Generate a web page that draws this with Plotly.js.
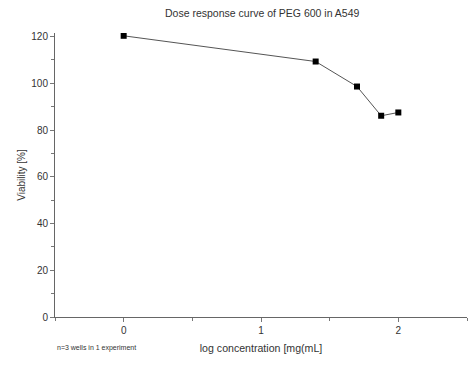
<!DOCTYPE html>
<html>
<head>
<meta charset="utf-8">
<script src="https://cdn.plot.ly/plotly-3.0.1.min.js"></script>
<style>html,body{margin:0;padding:0;background:#fff;}#chart{width:475px;height:369px;}</style>
</head>
<body>
<div id="chart"></div>
<script>
const logConc = [0, 1.398, 1.699, 1.875, 2];
const viability = [120.3, 109.3, 98.6, 86.1, 87.5];
const xTickVals = [0, 1, 2];
const yTickVals = [0, 20, 40, 60, 80, 100, 120];

const trace = {
  x: logConc, y: viability, type: 'scatter', mode: 'lines+markers',
  line: {color: '#555555', width: 1},
  marker: {symbol: 'square', size: 6, color: '#000000'},
  showlegend: false, hoverinfo: 'none'
};
const fontFam = 'Liberation Sans, Arial, sans-serif';
const layout = {
  width: 475, height: 369,
  margin: {l: 55, r: 8, t: 33, b: 52},
  paper_bgcolor: '#ffffff', plot_bgcolor: '#ffffff',
  font: {family: fontFam, size: 10, color: '#333333'},
  title: {text: 'Dose response curve of PEG 600 in A549', font: {family: fontFam, size: 10.5, color: '#333333'}, x: 0.552, xanchor: 'center', y: 0.965, yanchor: 'middle'},
  xaxis: {
    range: [-0.5, 2.5], tickvals: xTickVals, ticks: 'outside', ticklen: 4, tickcolor: '#777777',
    showgrid: false, zeroline: false, showline: true, linecolor: '#666666', linewidth: 1,
    tickfont: {family: fontFam, size: 10, color: '#333333'},
    minor: {dtick: 0.5, tick0: 0.5, ticks: 'outside', ticklen: 3, tickcolor: '#777777', showgrid: false},
    title: {text: 'log concentration [mg(mL]', font: {family: fontFam, size: 10.6, color: '#333333'}, standoff: 9}
  },
  yaxis: {
    range: [0, 121.5], tickvals: yTickVals, ticks: 'outside', ticklen: 4, tickcolor: '#777777',
    showgrid: false, zeroline: false, showline: true, linecolor: '#666666', linewidth: 1,
    tickfont: {family: fontFam, size: 10, color: '#333333'},
    minor: {dtick: 10, tick0: 10, ticks: 'outside', ticklen: 3, tickcolor: '#777777', showgrid: false},
    title: {text: 'Viability [%]', font: {family: fontFam, size: 10, color: '#333333'}, standoff: 3}
  },
  annotations: [{
    text: 'n=3 wells in 1 experiment', xref: 'paper', yref: 'paper', x: 0, y: -0.108,
    xanchor: 'left', yanchor: 'middle', showarrow: false,
    font: {family: fontFam, size: 7, color: '#333333'}
  }]
};
Plotly.newPlot('chart', [trace], layout, {staticPlot: true, displayModeBar: false});
</script>
</body>
</html>
